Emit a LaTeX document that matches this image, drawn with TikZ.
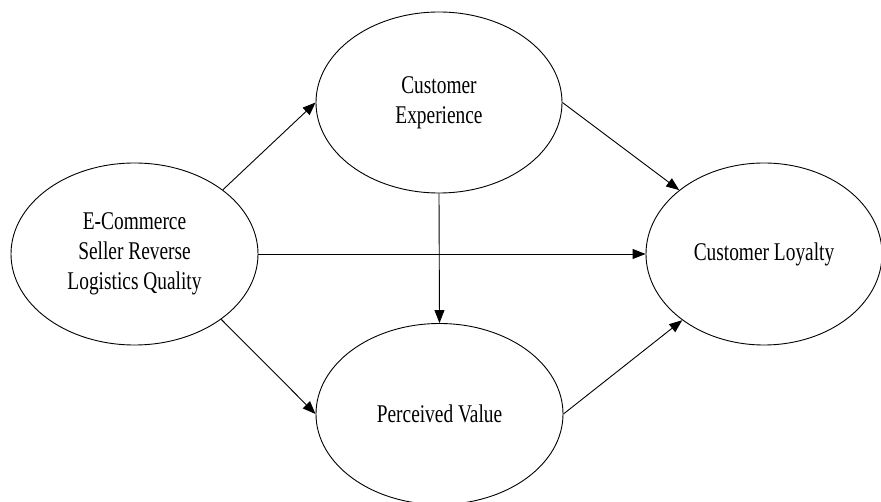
\documentclass[tikz,border=0pt]{standalone}
\usepackage{fontspec}
\setmainfont[FakeStretch=0.76]{Liberation Serif}
\usetikzlibrary{shapes.geometric,arrows.meta}
\begin{document}
\begin{tikzpicture}[x=1pt,y=1pt,
  var/.style={draw, ellipse, inner sep=0pt, line width=0.9pt, align=center,
    font=\fontsize{25.5}{30}\selectfont},
  link/.style={line width=0.9pt, -{Triangle[length=13pt,width=10pt]}}]
\useasboundingbox (0,0) rectangle (881,501);
\node[var, minimum width=247pt, minimum height=182pt] (L) at (134.5,247) {E-Commerce\\Seller Reverse\\Logistics Quality};
\node[var, minimum width=246pt, minimum height=181pt] (T) at (439,398.5) {Customer\\Experience};
\node[var, minimum width=247pt, minimum height=181pt] (B) at (439.5,87) {Perceived Value};
\node[var, minimum width=236pt, minimum height=182pt] (R) at (764,247) {Customer Loyalty};
\draw[link] (L.36) -- (T.west);
\draw[link] (L.-37) -- (B.west);
\draw[link] (L.east) -- (R.west);
\draw[link] (T.south) -- (B.north);
\draw[link] (T.east) -- (R.143);
\draw[link] (B.east) -- (R.-141);
\end{tikzpicture}
\end{document}
